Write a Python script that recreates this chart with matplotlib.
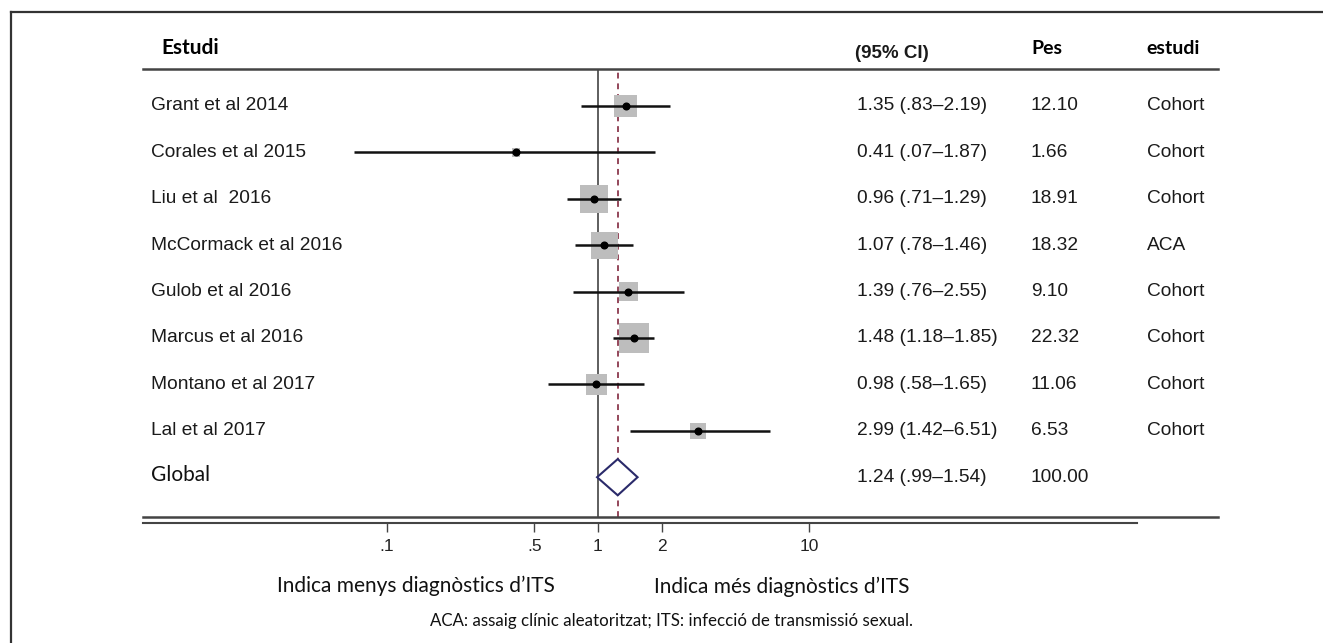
import matplotlib
matplotlib.use("Agg")
import matplotlib.pyplot as plt
import matplotlib.transforms as mtransforms
import numpy as np

# ---------------------------------- data
studies = ["Grant et al 2014", "Corales et al 2015", "Liu et al  2016",
           "McCormack et al 2016", "Gulob et al 2016", "Marcus et al 2016",
           "Montano et al 2017", "Lal et al 2017"]
est = [1.35, 0.41, 0.96, 1.07, 1.39, 1.48, 0.98, 2.99]
lo = [0.83, 0.07, 0.71, 0.78, 0.76, 1.18, 0.58, 1.42]
hi = [2.19, 1.87, 1.29, 1.46, 2.55, 1.85, 1.65, 6.51]
weights = [12.10, 1.66, 18.91, 18.32, 9.10, 22.32, 11.06, 6.53]
ci_text = ["1.35 (.83\u20132.19)", "0.41 (.07\u20131.87)", "0.96 (.71\u20131.29)",
           "1.07 (.78\u20131.46)", "1.39 (.76\u20132.55)", "1.48 (1.18\u20131.85)",
           "0.98 (.58\u20131.65)", "2.99 (1.42\u20136.51)"]
weight_text = ["12.10", "1.66", "18.91", "18.32", "9.10", "22.32", "11.06", "6.53"]
design = ["Cohort", "Cohort", "Cohort", "ACA", "Cohort", "Cohort", "Cohort", "Cohort"]

overall = 1.24
overall_lo = 0.99
overall_hi = 1.54
overall_ci = "1.24 (.99\u20131.54)"
overall_w = "100.00"

xticks = [0.1, 0.5, 1, 2, 10]
xtick_labels = [".1", ".5", "1", "2", "10"]

W, H = 1323, 643
ARIAL = "Liberation Sans"
CAL = "Lato"

fig = plt.figure(figsize=(W / 100, H / 100), dpi=100)
fig.patch.set_facecolor("white")

# axes spans from header rule (y=69px) to lower rule (y=517px)
ax = fig.add_axes([143 / W, 1 - 517 / H, 1075 / W, (517 - 69) / H])
ax.set_xscale("log")
ax.set_xlim(10 ** ((143 - 598) / 211), 10 ** ((1218 - 598) / 211))
row_px = 46.4
ax.set_ylim((517 - 106) / row_px, (69 - 106) / row_px)
for s in ax.spines.values():
    s.set_visible(False)
ax.spines["bottom"].set_position(("outward", 4.5))

ypos = np.arange(len(studies))
y_global = len(studies)

# reference lines
ax.axvline(1, color="#333333", lw=1.1, zorder=1)
ax.axvline(overall, color="#94465a", lw=1.4, ls=(0, (3, 2.5)), zorder=1)

# weight boxes, CI lines, point estimates
ax.scatter(est, ypos, s=[21 * w for w in weights], marker="s", color="#bdbdbd",
           linewidths=0, zorder=2)
ax.hlines(ypos, lo, hi, color="#111111", lw=1.8, zorder=3)
ax.plot(est, ypos, "o", color="#000000", ms=4.8, zorder=4)

# overall diamond
ax.fill([overall_lo, overall, overall_hi, overall],
        [y_global, y_global - 0.39, y_global, y_global + 0.39],
        facecolor="white", edgecolor="#2a2a6a", lw=1.5, zorder=3)

# rules
ax.axhline((69 - 106) / row_px, color="#444444", lw=1.8, zorder=1, clip_on=False)
ax.axhline((517 - 106) / row_px, color="#444444", lw=1.8, zorder=1, clip_on=False)
ax.axhline((523 - 106) / row_px, xmin=0, xmax=(1137 - 143) / 1075,
           color="#444444", lw=1.5, zorder=1, clip_on=False)

# ticks
ax.set_yticks([])
ax.set_xticks(xticks)
ax.set_xticklabels(xtick_labels, fontfamily=ARIAL, fontsize=12.5, color="#222222")
ax.xaxis.set_minor_locator(matplotlib.ticker.NullLocator())
ax.tick_params(axis="x", direction="out", length=6.5, width=1, color="#444444", pad=4.5)

# table text
tr = mtransforms.blended_transform_factory(ax.transAxes, ax.transData)
col_lab = (151 - 143) / 1075
col_ci = (857 - 143) / 1075
col_w = (1031 - 143) / 1075
col_d = (1147 - 143) / 1075
for i in range(len(studies)):
    ax.text(col_lab, ypos[i], studies[i], transform=tr, ha="left", va="center",
            fontfamily=ARIAL, fontsize=13.8, color="#1a1a1a")
    ax.text(col_ci, ypos[i], ci_text[i], transform=tr, ha="left", va="center",
            fontfamily=ARIAL, fontsize=13.8, color="#1a1a1a")
    ax.text(col_w, ypos[i], weight_text[i], transform=tr, ha="left", va="center",
            fontfamily=ARIAL, fontsize=13.8, color="#1a1a1a")
    ax.text(col_d, ypos[i], design[i], transform=tr, ha="left", va="center",
            fontfamily=ARIAL, fontsize=13.8, color="#1a1a1a")
ax.text(col_lab, y_global - 0.05, "Global", transform=tr, ha="left", va="center",
        fontfamily=CAL, fontsize=15, color="#111111")
ax.text(col_ci, y_global, overall_ci, transform=tr, ha="left", va="center",
        fontfamily=ARIAL, fontsize=13.8, color="#1a1a1a")
ax.text(col_w, y_global, overall_w, transform=tr, ha="left", va="center",
        fontfamily=ARIAL, fontsize=13.8, color="#1a1a1a")

# headers
yh = (48 - 106) / row_px
ax.text((161 - 143) / 1075, yh, "Estudi", transform=tr, ha="left", va="center",
        fontfamily=CAL, fontweight="bold", fontsize=15, clip_on=False)
ax.text((855 - 143) / 1075, yh + 0.12, "(95% CI)", transform=tr, ha="left", va="center",
        fontfamily=ARIAL, fontweight="bold", fontsize=13.5, color="#1a1a1a", clip_on=False)
ax.text((1031 - 143) / 1075, yh, "Pes", transform=tr, ha="left", va="center",
        fontfamily=CAL, fontweight="bold", fontsize=14, clip_on=False)
ax.text((1146 - 143) / 1075, yh, "estudi", transform=tr, ha="left", va="center",
        fontfamily=CAL, fontweight="bold", fontsize=14, clip_on=False)

# direction labels and footnote
fig.text(416 / W, 1 - 586 / H, "Indica menys diagn\u00f2stics d\u2019ITS", ha="center",
         va="center", fontfamily=CAL, fontsize=15, color="#111111")
fig.text(782 / W, 1 - 587 / H, "Indica m\u00e9s diagn\u00f2stics d\u2019ITS", ha="center",
         va="center", fontfamily=CAL, fontsize=15, color="#111111")
fig.text(671 / W, 1 - 621 / H,
         "ACA: assaig cl\u00ednic aleatoritzat; ITS: infecci\u00f3 de transmissi\u00f3 sexual.",
         ha="center", va="center", fontfamily=CAL, fontsize=12.2, color="#111111")

# outer frame (top and left only)
fig.add_artist(plt.Line2D([11 / W, 1], [1 - 12 / H, 1 - 12 / H], transform=fig.transFigure,
                          color="#333333", lw=1.6))
fig.add_artist(plt.Line2D([11 / W, 11 / W], [0, 1 - 12 / H], transform=fig.transFigure,
                          color="#333333", lw=1.6))

fig.savefig("out.png", dpi=100, facecolor="white")
